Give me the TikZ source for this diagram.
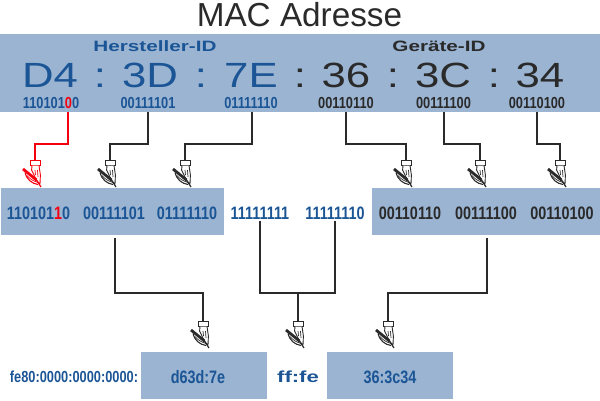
\documentclass[tikz,border=0pt]{standalone}
\usepackage{fontspec}
\setmainfont{Liberation Sans}
\newfontfamily\narrowbold[FakeStretch=0.8]{Liberation Sans}
\newfontfamily\widebold[FakeStretch=1.38]{Liberation Sans}
\newfontfamily\bigwide[FakeStretch=1.25]{Liberation Sans}
\definecolor{panelblue}{HTML}{9AB4D2}
\definecolor{inkblue}{HTML}{1B5595}
\definecolor{inkdark}{HTML}{2A2A2A}
\definecolor{hotred}{HTML}{F5000F}
\tikzset{
  panel/.style={fill=panelblue,draw=none},
  txt/.style={anchor=base,inner sep=0pt,outer sep=0pt},
  titletext/.style={txt,text=inkdark,font=\fontsize{33.3}{33}\selectfont},
  headtext/.style={txt,font=\widebold\bfseries\fontsize{15}{15}\selectfont},
  bigtext/.style={txt,font=\bigwide\fontsize{35}{35}\selectfont},
  bitsmall/.style={txt,font=\narrowbold\bfseries\fontsize{16}{16}\selectfont},
  bitlarge/.style={txt,font=\narrowbold\bfseries\fontsize{18}{18}\selectfont},
  wire/.style={draw=inkdark,line width=2pt,line join=miter},
  redwire/.style={wire,draw=hotred},
  pics/hand/.style={code={
    \draw[draw=#1,fill=white,line width=0.9pt] (-5,0.5) rectangle (5.2,5.5);
    \draw[draw=#1,fill=white,line width=0.9pt,line join=round]
      (-3,5.5) -- (-3.4,10) -- (-1,15) -- (1.5,20.5) -- (5,24) -- (5.4,15) -- (4,5.5);
    \draw[draw=#1,line width=0.7pt] (0,10) -- (0.5,15) (2.5,10) -- (3,17);
    \draw[draw=#1,line width=1.1pt] (-10,12.5) .. controls (-8,20) and (-3,23.5) .. (3,24.5);
    \draw[draw=#1,line width=0.7pt] (-8,15.5) .. controls (-5,19) and (-2,21) .. (3,22.5);
    \draw[draw=#1,line width=2.8pt] (-12,9) -- (1.5,20);
    \draw[draw=#1,line width=1.2pt] (1.5,20) -- (6,27);
  }}
}
\begin{document}
\begin{tikzpicture}[x=1pt,y=-1pt]
\useasboundingbox (0,0) rectangle (600,400);
% panels
\node[panel,minimum width=600pt,minimum height=78pt,inner sep=0pt,anchor=north west] (top) at (0,34) {};
\node[panel,minimum width=223pt,minimum height=47pt,inner sep=0pt,anchor=north west] (left) at (1,188) {};
\node[panel,minimum width=228pt,minimum height=47pt,inner sep=0pt,anchor=north west] (right) at (372,188) {};
\node[panel,minimum width=126pt,minimum height=47pt,inner sep=0pt,anchor=north west] (lo1) at (141,352) {};
\node[panel,minimum width=126pt,minimum height=47pt,inner sep=0pt,anchor=north west] (lo2) at (327,352) {};
% title and headings
\node[titletext] (title) at (299.5,26) {MAC Adresse};
\node[headtext,text=inkblue] (hid) at (155,51) {Hersteller-ID};
\node[headtext,text=inkdark] (gid) at (439,51) {Geräte-ID};
% hex
\node[bigtext,text=inkblue] (x1) at (50,87) {D4};
\node[bigtext,text=inkblue] (c1) at (100,87) {:};
\node[bigtext,text=inkblue] (x2) at (150,87) {3D};
\node[bigtext,text=inkblue] (c2) at (201,87) {:};
\node[bigtext,text=inkblue] (x3) at (251,87) {7E};
\node[bigtext,text=inkdark] (c3) at (300,87) {:};
\node[bigtext,text=inkdark] (x4) at (346,87) {36};
\node[bigtext,text=inkdark] (c4) at (393,87) {:};
\node[bigtext,text=inkdark] (x5) at (443,87) {3C};
\node[bigtext,text=inkdark] (c5) at (494,87) {:};
\node[bigtext,text=inkdark] (x6) at (540,87) {34};
% bits, upper row
\node[bitsmall,text=inkblue] (b1) at (51,108.5) {110101\textcolor{hotred}{0}0};
\node[bitsmall,text=inkblue] (b2) at (148,108.5) {00111101};
\node[bitsmall,text=inkblue] (b3) at (251,108.5) {01111110};
\node[bitsmall,text=inkdark] (b4) at (346,108.5) {00110110};
\node[bitsmall,text=inkdark] (b5) at (443.5,108.5) {00111100};
\node[bitsmall,text=inkdark] (b6) at (537,108.5) {00110100};
% bits, middle row
\node[bitlarge,text=inkblue] (m1) at (38.5,219.5) {110101\textcolor{hotred}{1}0};
\node[bitlarge,text=inkblue] (m2) at (114,219.5) {00111101};
\node[bitlarge,text=inkblue] (m3) at (187,219.5) {01111110};
\node[bitlarge,text=inkblue] (m4) at (260,219.5) {11111111};
\node[bitlarge,text=inkblue] (m5) at (335,219.5) {11111110};
\node[bitlarge,text=inkdark] (m6) at (410,219.5) {00110110};
\node[bitlarge,text=inkdark] (m7) at (486,219.5) {00111100};
\node[bitlarge,text=inkdark] (m8) at (562,219.5) {00110100};
% bottom row
\node[bitsmall,text=inkblue] (pre) at (74,382) {fe80:0000:0000:0000:};
\node[bitlarge,text=inkblue] (r1) at (198,383) {d63d:7e};
\node[headtext,text=inkblue,font=\widebold\bfseries\fontsize{16}{16}\selectfont] (r2) at (298,382.5) {ff:fe};
\node[bitlarge,text=inkblue] (r3) at (390,383) {36:3c34};
% hand tops
\coordinate (h1) at (35,160);
\coordinate (h2) at (110,160);
\coordinate (h3) at (185,160);
\coordinate (h4) at (406,160);
\coordinate (h5) at (480,160);
\coordinate (h6) at (560,160);
\coordinate (h7) at (203,321);
\coordinate (h8) at (298,321);
\coordinate (h9) at (388,321);
% connector starts
\coordinate (s1) at (68,112);
\coordinate (s2) at (148,112);
\coordinate (s3) at (252,112);
\coordinate (s4) at (346,112);
\coordinate (s5) at (444,112);
\coordinate (s6) at (537,112);
\coordinate (s7) at (115,238);
\coordinate (s8) at (260,221);
\coordinate (s9) at (335,221);
\coordinate (s10) at (487,238);
% connectors
\draw[redwire] (s1) -- ++(0,32) -| (h1);
\draw[wire] (s2) -- ++(0,32) -| (h2);
\draw[wire] (s3) -- ++(0,32) -| (h3);
\draw[wire] (s4) -- ++(0,32) -| (h4);
\draw[wire] (s5) -- ++(0,32) -| (h5);
\draw[wire] (s6) -- ++(0,32) -| (h6);
\draw[wire] (s7) -- ++(0,55) -| (h7);
\draw[wire] (s8) -- ++(0,72) -| (h8);
\draw[wire] (s9) -- ++(0,72) -- (h8 |- s9 |- 0,293);
\draw[wire] (s10) -- ++(0,55) -| (h9);
% hands
\pic at (h1) {hand=hotred};
\foreach \h in {h2,h3,h4,h5,h6,h7,h8,h9} \pic at (\h) {hand=inkdark};
\end{tikzpicture}
\end{document}
